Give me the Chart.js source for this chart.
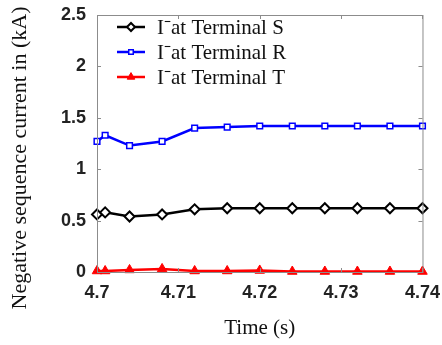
<!DOCTYPE html>
<html>
<head>
<meta charset="utf-8">
<script src="https://cdn.jsdelivr.net/npm/chart.js@4.4.1/dist/chart.umd.min.js"></script>
<style>
  html, body { margin: 0; padding: 0; background: #fff; }
  #wrap { width: 442px; height: 345px; }
</style>
</head>
<body>
<div id="wrap"><canvas id="seqChart" width="442" height="345"></canvas></div>
<script>
// time samples (s)
const times = [4.7, 4.701, 4.704, 4.708, 4.712, 4.716, 4.72, 4.724, 4.728, 4.732, 4.736, 4.74];
// negative sequence current (kA)
const termS = [0.56, 0.58, 0.54, 0.56, 0.61, 0.62, 0.62, 0.62, 0.62, 0.62, 0.62, 0.62];
const termR = [1.27, 1.33, 1.23, 1.27, 1.40, 1.41, 1.42, 1.42, 1.42, 1.42, 1.42, 1.42];
const termT = [0.01, 0.01, 0.02, 0.03, 0.01, 0.01, 0.015, 0.005, 0.005, 0.005, 0.005, 0.005];

const xTicks = [4.7, 4.71, 4.72, 4.73, 4.74];
const yTicks = [0, 0.5, 1, 1.5, 2, 2.5];

const seriesNames = ["I\u207Bat Terminal S", "I\u207Bat Terminal R", "I\u207Bat Terminal T"];
const yTitle = "Negative sequence current in (kA)";

function pts(ys) {
  return times.map((t, i) => ({ x: t, y: ys[i] }));
}

const tickFont = { family: "'Liberation Sans', Arial, sans-serif", size: 18, weight: "bold" };
const serif = "'Liberation Serif', 'Times New Roman', serif";

// draws the matlab style box, inward ticks, the y title and the legend inside the plot
const boxPlugin = {
  id: "boxPlugin",
  afterDatasetsDraw(chart) {
    const { ctx, chartArea: a, scales } = chart;
    ctx.save();
    ctx.strokeStyle = "#8c8c8c";
    ctx.lineWidth = 1;
    ctx.strokeRect(a.left + 0.5, a.top + 0.5, a.right - a.left, a.bottom - a.top);
    ctx.beginPath();
    yTicks.forEach(v => {
      const y = Math.round(scales.y.getPixelForValue(v)) + 0.5;
      ctx.moveTo(a.left, y); ctx.lineTo(a.left + 4, y);
      ctx.moveTo(a.right, y); ctx.lineTo(a.right - 4, y);
    });
    xTicks.forEach(v => {
      const x = Math.round(scales.x.getPixelForValue(v)) + 0.5;
      ctx.moveTo(x, a.bottom); ctx.lineTo(x, a.bottom - 4);
      ctx.moveTo(x, a.top); ctx.lineTo(x, a.top + 4);
    });
    ctx.stroke();

    // y title, sits a bit lower than the plot centre like the original
    ctx.save();
    ctx.translate(20, 158);
    ctx.rotate(-Math.PI / 2);
    ctx.fillStyle = "#111";
    ctx.font = "22px " + serif;
    ctx.textAlign = "center";
    ctx.textBaseline = "middle";
    ctx.fillText(yTitle, 0, 0);
    ctx.restore();

    // legend
    const lx = a.left + 20, lw = 28, rowH = 25;
    chart.data.datasets.forEach((ds, i) => {
      const y = a.top + 12 + i * rowH;
      ctx.strokeStyle = ds.borderColor;
      ctx.lineWidth = ds.borderWidth;
      ctx.beginPath();
      ctx.moveTo(lx, y); ctx.lineTo(lx + lw, y);
      ctx.stroke();
      ctx.fillStyle = ds.pointBackgroundColor;
      ctx.strokeStyle = ds.borderColor;
      ctx.lineWidth = ds.pointBorderWidth;
      Chart.helpers.drawPoint(ctx, {
        pointStyle: ds.pointStyle,
        radius: ds.pointRadius * 0.8,
        borderWidth: ds.pointBorderWidth
      }, lx + lw / 2, y);
      ctx.fillStyle = "#111";
      ctx.font = "21px " + serif;
      ctx.textBaseline = "middle";
      ctx.textAlign = "left";
      ctx.fillText(ds.label, lx + lw + 12, y + 1);
    });
    ctx.restore();
  }
};

new Chart(document.getElementById("seqChart"), {
  type: "line",
  data: {
    datasets: [
      {
        label: seriesNames[0],
        data: pts(termS),
        borderColor: "#000000",
        borderWidth: 2.5,
        pointStyle: "rectRot",
        pointRadius: 5,
        pointBorderWidth: 2,
        pointBackgroundColor: "#ffffff",
        order: 2
      },
      {
        label: seriesNames[1],
        data: pts(termR),
        borderColor: "#0000ff",
        borderWidth: 2.5,
        pointStyle: "rect",
        pointRadius: 4,
        pointBorderWidth: 1.5,
        pointBackgroundColor: "#ffffff",
        order: 1
      },
      {
        label: seriesNames[2],
        data: pts(termT),
        borderColor: "#ff0000",
        borderWidth: 2.5,
        pointStyle: "triangle",
        pointRadius: 5.5,
        pointBorderWidth: 1,
        pointBackgroundColor: "#ff0000",
        order: 0
      }
    ]
  },
  options: {
    responsive: false,
    animation: false,
    clip: false,
    layout: { padding: { top: 15, right: 19, left: 0, bottom: 0 } },
    plugins: { legend: { display: false }, tooltip: { enabled: false } },
    scales: {
      x: {
        type: "linear",
        min: 4.7,
        max: 4.74,
        grid: { display: false },
        border: { display: false },
        afterBuildTicks: s => { s.ticks = xTicks.map(v => ({ value: v })); },
        afterFit: s => { s.height = 73; },
        ticks: {
          color: "#222",
          font: tickFont,
          padding: 2,
          maxRotation: 0,
          callback: v => String(parseFloat(v.toFixed(2)))
        },
        title: {
          display: true,
          text: "Time (s)",
          color: "#111",
          font: { family: serif, size: 21 },
          padding: { top: 19 }
        }
      },
      y: {
        min: 0,
        max: 2.5,
        grid: { display: false },
        border: { display: false },
        afterBuildTicks: s => { s.ticks = yTicks.map(v => ({ value: v })); },
        afterFit: s => { s.width = 97; },
        ticks: {
          color: "#222",
          font: tickFont,
          padding: 3,
          callback: v => String(v)
        }
      }
    }
  },
  plugins: [boxPlugin]
});
</script>
</body>
</html>
